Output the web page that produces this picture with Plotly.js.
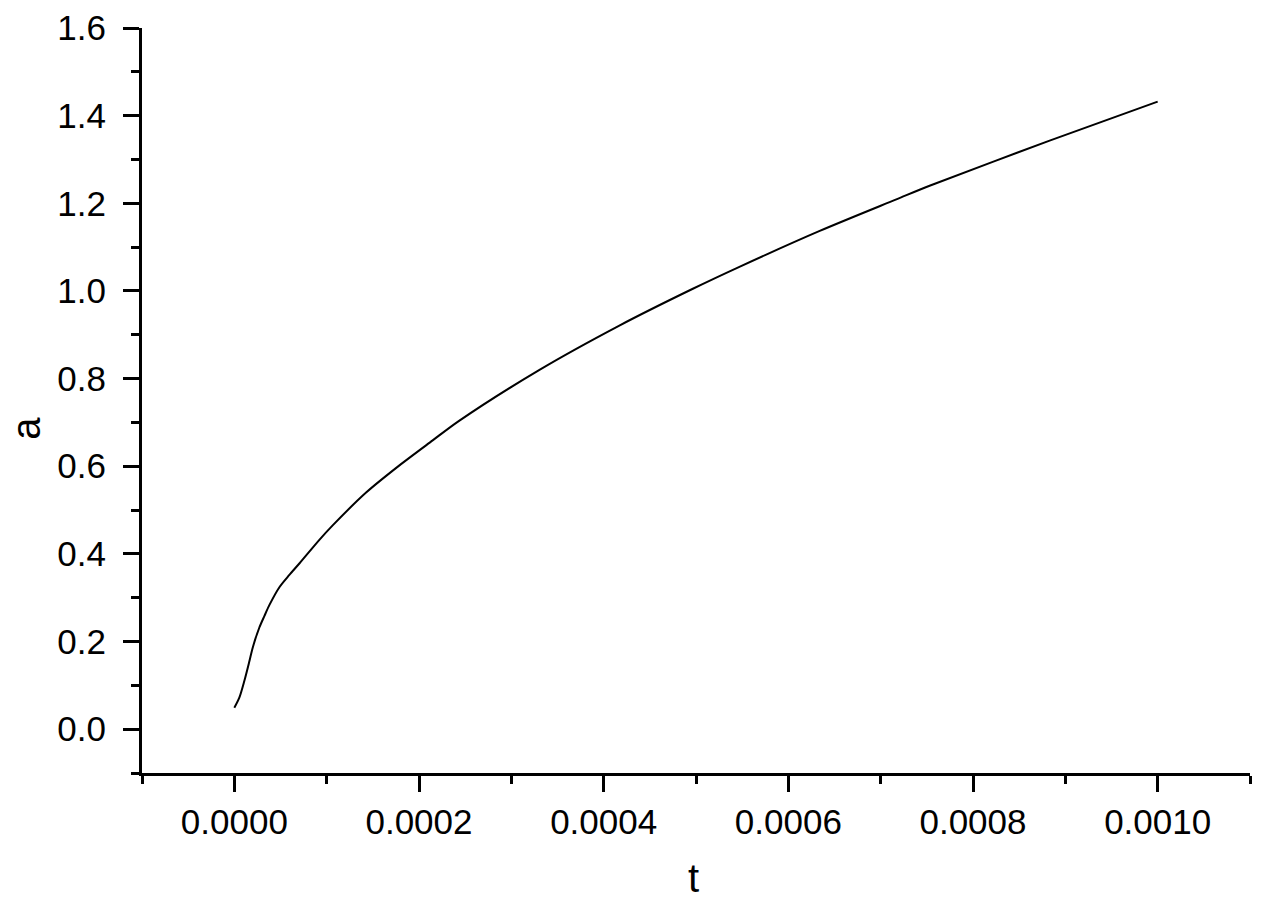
<!DOCTYPE html>
<html>
<head>
<meta charset="utf-8">
<script src="https://cdn.plot.ly/plotly-3.0.1.min.js"></script>
<style>
  html, body { margin: 0; padding: 0; background: #fff; }
  #chart { width: 1264px; height: 901px; }
</style>
</head>
<body>
<div id="chart"></div>
<script>
// values
const tValues = [0, 0.0000054, 0.0000108, 0.0000163, 0.0000199, 0.0000271, 0.0000325,
  0.0000379, 0.0000488, 0.0000596, 0.0000704, 0.0000921, 0.0001065, 0.0001427,
  0.0001788, 0.0002148, 0.000243, 0.0003305, 0.000417, 0.0004966, 0.000547,
  0.000634, 0.000717, 0.000753, 0.000883, 0.001];
const aValues = [0.049, 0.072, 0.11, 0.155, 0.186, 0.232, 0.258, 0.283, 0.324, 0.352,
  0.378, 0.432, 0.465, 0.54, 0.602, 0.659, 0.703, 0.82, 0.921, 1.005, 1.055, 1.137,
  1.209, 1.24, 1.343, 1.432];

const xTicks = [0, 0.0002, 0.0004, 0.0006, 0.0008, 0.001];
const xTickText = ["0.0000", "0.0002", "0.0004", "0.0006", "0.0008", "0.0010"];
const yTicks = [0, 0.2, 0.4, 0.6, 0.8, 1.0, 1.2, 1.4, 1.6];
const yTickText = ["0.0", "0.2", "0.4", "0.6", "0.8", "1.0", "1.2", "1.4", "1.6"];

const font = "Liberation Sans, Arial, sans-serif";

const traces = [{
  x: tValues,
  y: aValues,
  type: "scatter",
  mode: "lines",
  line: { color: "#000", width: 2, shape: "spline", smoothing: 0.8 },
  hoverinfo: "x+y"
}];

const layout = {
  width: 1264,
  height: 901,
  paper_bgcolor: "#fff",
  plot_bgcolor: "#fff",
  font: { family: font, color: "#000", size: 35 },
  margin: { l: 142, r: 14, t: 28, b: 128 },
  showlegend: false,
  xaxis: {
    range: [-0.0001, 0.0011],
    tickmode: "array",
    tickvals: xTicks,
    ticktext: xTickText,
    tickfont: { size: 35 },
    ticks: "outside",
    ticklen: 16,
    tickwidth: 3,
    tickcolor: "#000",
    ticklabelstandoff: 0,
    minor: { dtick: 0.0001, tick0: 0, ticks: "outside", ticklen: 8, tickwidth: 3, tickcolor: "#000" },
    showline: true,
    linewidth: 3,
    linecolor: "#000",
    showgrid: false,
    zeroline: false
  },
  yaxis: {
    range: [-0.1, 1.6],
    tickmode: "array",
    tickvals: yTicks,
    ticktext: yTickText,
    tickfont: { size: 35 },
    ticks: "outside",
    ticklen: 16,
    tickwidth: 3,
    tickcolor: "#000",
    ticklabelstandoff: 10,
    minor: { dtick: 0.1, tick0: 0, ticks: "outside", ticklen: 8, tickwidth: 3, tickcolor: "#000" },
    showline: true,
    linewidth: 3,
    linecolor: "#000",
    showgrid: false,
    zeroline: false
  },
  annotations: [
    { text: "t", xref: "paper", yref: "paper", x: 0.498, y: -0.141,
      xanchor: "center", yanchor: "middle", showarrow: false, font: { size: 40 } },
    { text: "a", xref: "paper", yref: "paper", x: -0.105, y: 0.463, textangle: -90,
      xanchor: "center", yanchor: "middle", showarrow: false, font: { size: 40 } }
  ]
};

Plotly.newPlot("chart", traces, layout, { displayModeBar: false, staticPlot: true });
</script>
</body>
</html>
